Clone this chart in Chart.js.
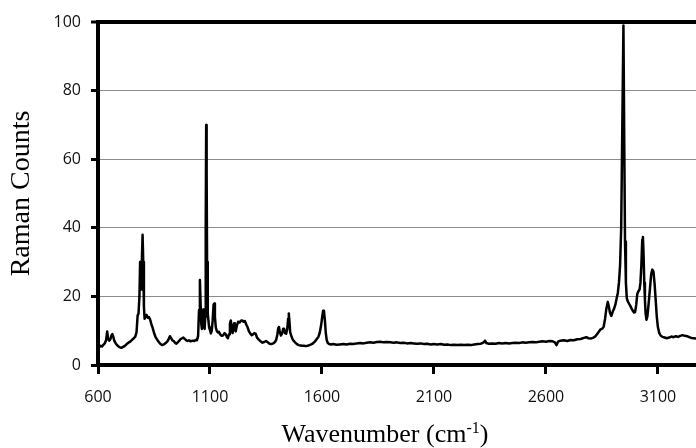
<!DOCTYPE html>
<html><head><meta charset="utf-8">
<script src="https://cdn.jsdelivr.net/npm/chart.js@4.4.1/dist/chart.umd.min.js"></script>
<style>html,body{margin:0;padding:0;background:#fff}#wrap{width:696px;height:448px}</style>
</head><body><div id="wrap"><canvas id="c" width="696" height="448"></canvas></div>
<script>
const wavenumber = [
600,606,612,618,624,630,636,641,645,650,655,660,664,668,673,680,688,696,704,712,720,728,736,744,752,760,766,772,777,781,785,788,790,793,796,799,802,805,808,812,817,822,827,832,838,844,850,856,862,870,878,886,894,902,910,916,921,926,932,938,944,950,956,962,968,975,981,987,994,1000,
1006,1012,1018,1024,1030,1036,1042,1047,1051,1055,1058,1061,1064,1067,1070,1073,1076,1079,1081,1083,1085,1087,1090,1093,1096,1100,1104,1108,1112,1116,1119,1122,1126,1130,1135,1140,1145,1150,1155,1160,1165,1170,1175,1180,1185,1189,1193,1197,1201,1205,1208,1211,1215,1220,1226,1232,1238,1244,1250,1256,1262,1268,1274,1280,1286,1292,1298,1304,1310,1318,1326,1334,1342,1350,1358,1366,1374,1382,1390,1396,1401,1405,1408,1412,1417,1422,1427,1431,1435,1440,1445,1449,1452,1455,1458,1462,1468,1474,1480,1488,1496,1504,1512,1520,1528,1536,1544,1552,1560,1568,1576,1584,1590,1596,1601,1605,1609,1613,1617,1621,1626,1632,1640,
1650,1665,1680,1695,1710,1725,1740,1755,1770,1785,1800,1815,1830,1845,1860,1875,1890,1905,1920,1935,1950,1965,1980,1995,2010,2025,2040,2055,2070,2085,2100,2115,2130,2145,2160,2175,2190,2205,2220,2235,2250,2265,2280,2295,2310,2322,2328,2334,2345,2360,2375,2390,2405,2420,2435,2450,2465,2480,2495,2510,2525,2540,2555,2570,2585,2600,2615,2630,2640,2647,2654,2665,2680,2695,2710,2725,2740,2755,2770,2780,2790,2800,2810,2820,2828,2836,2844,2852,2858,2864,2870,2876,2881,2886,2892,2898,2904,2910,2916,2921,2926,2931,2936,2941,2946,2950,2953,2957,2961,2965,2970,2976,2982,2988,2993,2998,3003,3008,3013,3018,3022,3026,3030,3033,3036,3039,3042,3045,3049,3053,3058,3064,3070,3075,3080,3085,3090,3095,3100,3106,3112,3120,3130,3140,3150,3160,3170,3180,3190,3200,3210,3220,3230,3240,3250,3260,3270
];
const ramanCounts = [
5.0,5.2,5.6,5.4,5.9,6.3,7.2,9.8,7.6,7.1,7.5,8.6,9.0,8.3,7.0,6.2,5.6,5.2,5.0,5.3,5.6,6.1,6.5,6.8,7.3,7.8,8.2,9.5,14.5,15.0,20,30,27,22,31,38,30,17,13.5,14.2,14.6,13.8,14.0,13.4,12.0,10.8,9.4,8.3,7.6,6.8,6.2,5.8,6.0,6.4,6.9,7.6,8.4,7.9,7.2,7.0,6.5,6.2,6.6,7.0,7.5,7.8,8.0,7.6,7.2,7.0,
7.2,6.9,7.0,7.1,7.0,7.3,7.2,8.5,16,24.8,18,12,10.5,13,16.2,13,10.5,14,40,70,56,30,15,13,11,10.2,9.2,10,13,17.6,17.9,14,11,10,9.5,9.7,9.0,8.6,8.5,8.8,9.3,9.0,8.2,7.8,9.0,12,13,10.5,9.3,11.5,12.2,10.4,9.8,11.5,12.6,12.4,12.9,13.0,12.6,12.8,11.8,11.0,9.8,9.2,8.7,8.9,9.3,9.1,8.0,7.4,6.9,6.5,6.7,7.0,6.6,6.2,6.1,6.3,6.7,7.4,9.0,10.8,11.1,9.5,8.6,9.2,10.6,10.6,9.3,9.1,10.5,13.5,15.0,12.5,9.6,8.7,7.6,7.0,6.6,6.1,5.8,5.7,5.6,5.6,5.5,5.6,5.8,6.0,6.3,6.8,7.5,8.2,9.4,11.5,14,15.8,15.6,13,9.4,7.3,6.4,6.1,6.0,
6.1,5.9,6.0,6.1,6.0,6.2,6.1,6.3,6.4,6.3,6.5,6.6,6.5,6.7,6.8,6.6,6.7,6.6,6.5,6.6,6.4,6.5,6.3,6.4,6.3,6.2,6.3,6.1,6.2,6.0,6.1,6.0,6.1,5.9,6.0,5.8,5.9,5.8,5.9,5.8,5.9,5.8,6.0,6.1,6.2,6.6,7.1,6.4,6.2,6.3,6.2,6.4,6.3,6.4,6.3,6.4,6.5,6.4,6.6,6.5,6.6,6.7,6.6,6.8,6.9,6.8,7.0,6.9,6.6,5.8,6.8,7.1,7.2,7.0,7.3,7.2,7.5,7.6,7.9,8.1,7.8,7.7,7.9,8.3,9.0,9.7,10.4,10.6,11.2,13.5,16.5,18.4,17.0,15.2,14.3,15.5,16.4,17.6,19.5,21,24,29,40,70,99,62,36,24,19.5,18.6,18.0,17.3,16.5,15.8,15.3,15.4,17.5,20.8,21.5,22.0,24.0,29,36.5,37.3,32,24,19,15,13.2,14.2,17.5,22.0,26.5,27.8,27.2,23.8,19,14,11.0,9.3,8.6,8.2,8.0,7.8,8.0,8.3,8.1,8.4,8.2,8.5,8.7,8.5,8.4,8.1,7.9,7.8,7.7
];
const xTickValues = [600, 1100, 1600, 2100, 2600, 3100];
const yTickValues = [0, 20, 40, 60, 80, 100];
const xRange = [600, 3270];
const yRange = [0, 100];
const xTitleParts = ['Wavenumber (cm', '-1', ')'];
const yTitle = 'Raman Counts';

const points = wavenumber.map((w, i) => ({x: w, y: ramanCounts[i]}));
const tickFont = {family: '"Open Sans", "Liberation Sans", sans-serif', size: 16};
const serif = '"Liberation Serif", "DejaVu Serif", serif';

const xTitlePlugin = {
  id: 'xTitle',
  afterDraw(chart) {
    const ctx = chart.ctx;
    const big = '26px ' + serif, small = '16px ' + serif;
    ctx.save();
    ctx.fillStyle = '#000';
    ctx.textBaseline = 'alphabetic';
    ctx.textAlign = 'left';
    ctx.font = big;
    const w1 = ctx.measureText(xTitleParts[0]).width;
    const w3 = ctx.measureText(xTitleParts[2]).width;
    ctx.font = small;
    const w2 = ctx.measureText(xTitleParts[1]).width;
    const cx = (chart.chartArea.left + chart.chartArea.right) / 2 - 12;
    let x = cx - (w1 + w2 + w3) / 2;
    const y = chart.height - 6.5;
    ctx.font = big; ctx.fillText(xTitleParts[0], x, y); x += w1;
    ctx.font = small; ctx.fillText(xTitleParts[1], x, y - 9); x += w2;
    ctx.font = big; ctx.fillText(xTitleParts[2], x, y);
    ctx.restore();
  }
};

new Chart(document.getElementById('c'), {
  type: 'scatter',
  data: { datasets: [{
    data: points, showLine: true, borderColor: '#000', borderWidth: 2.5,
    borderJoinStyle: 'round', borderCapStyle: 'round',
    pointRadius: 0, pointHoverRadius: 0, tension: 0, fill: false
  }]},
  options: {
    responsive: false, animation: false, devicePixelRatio: 1, events: [],
    layout: { padding: {top: 22, right: 0, left: 0, bottom: 0} },
    plugins: { legend: {display: false}, tooltip: {enabled: false}, title: {display: false} },
    scales: {
      x: {
        type: 'linear', min: xRange[0], max: xRange[1],
        afterBuildTicks: s => { s.ticks = xTickValues.map(v => ({value: v})); },
        afterFit: s => { s.height = 83; },
        grid: { drawOnChartArea: false, drawTicks: true, tickLength: 9, tickColor: '#000', tickWidth: 3 },
        border: { color: '#000', width: 4 },
        ticks: { font: tickFont, color: '#111', padding: 14, maxRotation: 0, autoSkip: false, callback: v => String(v) }
      },
      y: {
        min: yRange[0], max: yRange[1],
        afterBuildTicks: s => { s.ticks = yTickValues.map(v => ({value: v})); },
        afterFit: s => { s.width = 98; },
        grid: {
          color: c => (c.tick && c.tick.value === 100) ? '#000' : '#8c8c8c',
          lineWidth: c => (c.tick && c.tick.value === 100) ? 4 : 1,
          drawTicks: true, tickLength: 7, tickColor: '#000', tickWidth: 3
        },
        border: { color: '#000', width: 4 },
        ticks: { font: tickFont, color: '#111', padding: 10, callback: v => String(v) },
        title: { display: true, text: yTitle, color: '#000', font: {family: serif, size: 28}, padding: {top: 5, bottom: 0} }
      }
    }
  },
  plugins: [xTitlePlugin]
});
</script></body></html>
